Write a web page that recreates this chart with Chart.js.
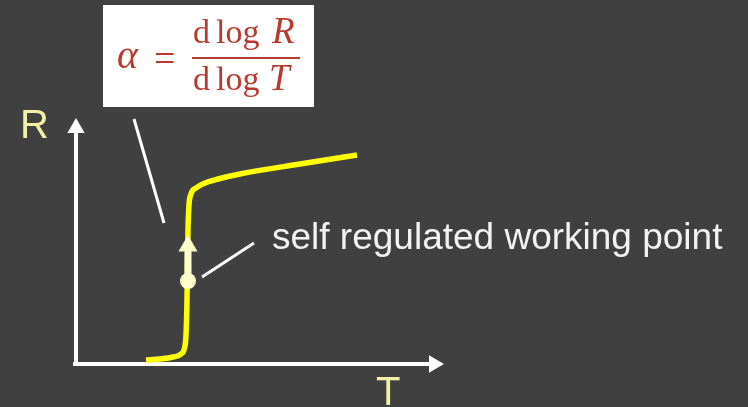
<!DOCTYPE html>
<html>
<head>
<meta charset="utf-8">
<script src="https://cdn.jsdelivr.net/npm/chart.js@4.4.1/dist/chart.umd.min.js"></script>
<style>
  html, body { margin: 0; padding: 0; background: #404040; }
  canvas { display: block; }
</style>
</head>
<body>
<canvas id="c" width="748" height="407"></canvas>
<script>
// Units: origin at the axes' crossing, T to the right, R upward (arbitrary units).
const curveT = [70, 84, 97, 105, 108.5, 110, 111, 111.5, 112, 113, 115, 120, 129, 142, 164, 224, 281];
const curveR = [4, 5, 7, 10, 16, 29, 64, 104, 134, 159, 170, 176, 181, 185, 190, 200, 209];

const tAxisT = [-3, 358];
const tAxisR = [0, 0];
const rAxisT = [0, 0];
const rAxisR = [-2, 236];

const workT = [112, 112];
const workR = [83, 118];

const formulaPointerT = [58, 88];
const formulaPointerR = [245, 141];
const workPointerT = [126, 178];
const workPointerR = [87, 121];

const axisLabels = ['R', 'T'];
const workLabel = 'self regulated working point';

const pts = (xs, ys) => xs.map((v, i) => ({ x: v, y: ys[i] }));

const bgPlugin = {
  id: 'bg',
  beforeDraw(chart) {
    const ctx = chart.ctx;
    ctx.save();
    ctx.fillStyle = '#404040';
    ctx.fillRect(0, 0, chart.width, chart.height);
    ctx.restore();
  }
};

const textPlugin = {
  id: 'texts',
  afterDatasetsDraw(chart) {
    const ctx = chart.ctx;
    const X = v => chart.scales.x.getPixelForValue(v);
    const Y = v => chart.scales.y.getPixelForValue(v);
    ctx.save();
    // formula box
    ctx.fillStyle = '#ffffff';
    ctx.fillRect(X(27), Y(359), X(238) - X(27), Y(257) - Y(359));
    const red = '#b83a2e';
    ctx.fillStyle = red;
    ctx.textBaseline = 'alphabetic';
    ctx.textAlign = 'left';
    ctx.font = 'italic 40px "Liberation Serif"';
    ctx.fillText('α', X(41), Y(296));
    ctx.font = '38px "Liberation Serif"';
    ctx.fillText('=', X(78), Y(293));
    // numerator
    ctx.font = '34px "Liberation Serif"';
    ctx.fillText('d', X(117), Y(321));
    ctx.fillText('log', X(140), Y(321));
    ctx.font = 'italic 37px "Liberation Serif"';
    ctx.fillText('R', X(196), Y(321));
    // bar
    ctx.strokeStyle = red;
    ctx.lineWidth = 1.8;
    ctx.beginPath();
    ctx.moveTo(X(116), Y(306));
    ctx.lineTo(X(224), Y(306));
    ctx.stroke();
    // denominator
    ctx.font = '34px "Liberation Serif"';
    ctx.fillText('d', X(117), Y(274));
    ctx.fillText('log', X(140), Y(274));
    ctx.font = 'italic 37px "Liberation Serif"';
    ctx.fillText('T', X(193), Y(274));

    // axis labels
    ctx.fillStyle = '#f4efa6';
    ctx.font = '40px "Liberation Sans"';
    ctx.fillText(axisLabels[0], X(-56), Y(226));
    ctx.fillText(axisLabels[1], X(300), Y(-41));

    // working point label
    ctx.fillStyle = '#f2f2f2';
    ctx.font = '37px "Liberation Sans"';
    ctx.fillText(workLabel, X(196), Y(115));
    ctx.restore();
  }
};

new Chart(document.getElementById('c'), {
  type: 'line',
  data: {
    datasets: [
      { data: pts(curveT, curveR), borderColor: '#ffff00', borderWidth: 5.5, pointRadius: 0,
        cubicInterpolationMode: 'monotone', borderCapStyle: 'butt', order: 1 },
      { data: pts(tAxisT, tAxisR), borderColor: '#ffffff', backgroundColor: '#ffffff', borderWidth: 4,
        pointRadius: [0, 10], pointStyle: 'triangle', pointRotation: 90, pointBorderWidth: 0, order: 3 },
      { data: pts(rAxisT, rAxisR), borderColor: '#ffffff', backgroundColor: '#ffffff', borderWidth: 4,
        pointRadius: [0, 10], pointStyle: 'triangle', pointRotation: 0, pointBorderWidth: 0, order: 3 },
      { data: pts(formulaPointerT, formulaPointerR), borderColor: '#ffffff', borderWidth: 3, pointRadius: 0, order: 3 },
      { data: pts(workPointerT, workPointerR), borderColor: '#ffffff', borderWidth: 3, pointRadius: 0, order: 3 },
      { data: pts(workT, workR), borderColor: '#ffffcc', backgroundColor: '#ffffcc', borderWidth: 7,
        pointRadius: [8, 11], pointStyle: ['circle', 'triangle'], pointRotation: 0, pointBorderWidth: 0,
        borderCapStyle: 'butt', order: 0 }
    ]
  },
  options: {
    responsive: false,
    animation: false,
    devicePixelRatio: 1,
    layout: { padding: 0, autoPadding: false },
    plugins: { legend: { display: false }, tooltip: { enabled: false }, title: { display: false } },
    elements: { line: { tension: 0 } },
    scales: {
      x: { type: 'linear', min: -76, max: 672, display: false },
      y: { type: 'linear', min: -43, max: 364, display: false }
    }
  },
  plugins: [bgPlugin, textPlugin]
});
</script>
</body>
</html>
